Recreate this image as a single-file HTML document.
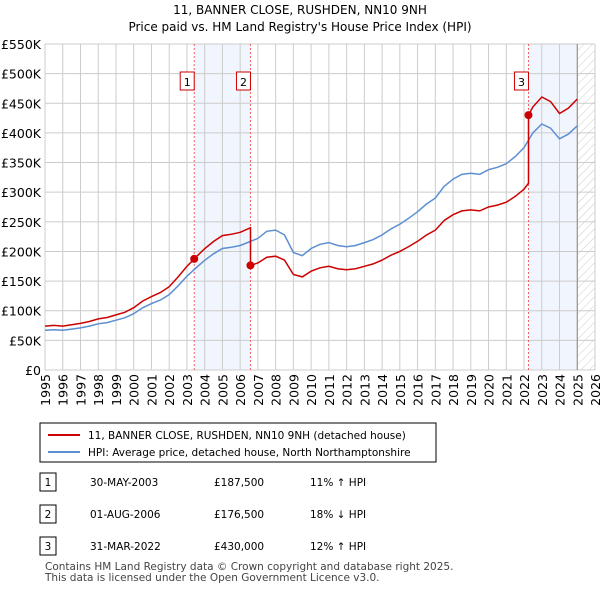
<!DOCTYPE html>
<html><head><meta charset="utf-8"><style>
body{margin:0;background:#fff;font-family:"DejaVu Sans",sans-serif;}
</style></head><body>
<svg width="600" height="590" xmlns="http://www.w3.org/2000/svg" style="font-family:'DejaVu Sans','Liberation Sans',sans-serif">
<defs><pattern id="hatch" width="6" height="6" patternUnits="userSpaceOnUse" patternTransform="rotate(45)"><line x1="0" y1="0" x2="0" y2="6" stroke="#ccc" stroke-width="1"/></pattern></defs>
<text x="300" y="14" text-anchor="middle" font-size="12">11, BANNER CLOSE, RUSHDEN, NN10 9NH</text>
<text x="300" y="31" text-anchor="middle" font-size="12">Price paid vs. HM Land Registry's House Price Index (HPI)</text>
<g id="plot"></g>
<g>
<rect x="40" y="423" width="396" height="39" fill="#fff" stroke="#000" stroke-width="1"/>
<line x1="48" y1="435" x2="80" y2="435" stroke="#cc0000" stroke-width="2"/>
<text x="88" y="439" font-size="10.5">11, BANNER CLOSE, RUSHDEN, NN10 9NH (detached house)</text>
<line x1="48" y1="452" x2="80" y2="452" stroke="#5b8fd0" stroke-width="2"/>
<text x="88" y="456" font-size="10.5">HPI: Average price, detached house, North Northamptonshire</text>
</g>
<g id="table" font-size="10.5"></g>
<text x="45" y="570" font-size="10.5" fill="#444">Contains HM Land Registry data © Crown copyright and database right 2025.</text>
<text x="45" y="581" font-size="10.5" fill="#444">This data is licensed under the Open Government Licence v3.0.</text>
</svg>
<script>
const hpiYears=[1995,1995.5,1996,1996.5,1997,1997.5,1998,1998.5,1999,1999.5,2000,2000.5,2001,2001.5,2002,2002.5,2003,2003.5,2004,2004.5,2005,2005.5,2006,2006.5,2007,2007.5,2008,2008.5,2009,2009.5,2010,2010.5,2011,2011.5,2012,2012.5,2013,2013.5,2014,2014.5,2015,2015.5,2016,2016.5,2017,2017.5,2018,2018.5,2019,2019.5,2020,2020.5,2021,2021.5,2022,2022.5,2023,2023.5,2024,2024.5,2025];
const hpiValues=[67,68,67,69,71,74,78,80,84,88,95,105,112,118,127,142,158,172,185,196,205,207,210,216,222,234,236,228,198,193,205,212,215,210,208,210,215,220,228,238,246,256,267,280,290,310,322,330,332,330,338,342,348,360,375,400,415,408,390,398,412];
const saleYears=[2003.41,2006.58,2022.25];
const salePrices=[187.5,176.5,430];
const saleLabels=["1","2","3"];
const saleDates=["30-MAY-2003","01-AUG-2006","31-MAR-2022"];
const salePriceText=["£187,500","£176,500","£430,000"];
const saleHpiText=["11% ↑ HPI","18% ↓ HPI","12% ↑ HPI"];
const yTicks=[0,50,100,150,200,250,300,350,400,450,500,550];
const yTickLabels=["£0","£50K","£100K","£150K","£200K","£250K","£300K","£350K","£400K","£450K","£500K","£550K"];

const NS="http://www.w3.org/2000/svg";
const X=y=>45+(y-1995)*550/31;
const Y=v=>370-v*326/550;
function mk(tag,attrs,parent){const e=document.createElementNS(NS,tag);for(const k in attrs)e.setAttribute(k,attrs[k]);parent.appendChild(e);return e;}
const plot=document.getElementById('plot');
function hpiAt(t){for(let i=0;i<hpiYears.length-1;i++){if(t<=hpiYears[i+1]){const f=(t-hpiYears[i])/(hpiYears[i+1]-hpiYears[i]);return hpiValues[i]+f*(hpiValues[i+1]-hpiValues[i]);}}return hpiValues[hpiValues.length-1];}
let s1=mk('rect',{x:X(saleYears[0]),y:44,width:X(saleYears[1])-X(saleYears[0]),height:326,fill:'#eef3fc',opacity:0.8},plot);

let s2=mk('rect',{x:X(saleYears[2]),y:44,width:X(2025)-X(saleYears[2]),height:326,fill:'#eef3fc',opacity:0.8},plot);

let h=mk('rect',{x:X(2025),y:44,width:595-X(2025),height:326,fill:'url(#hatch)'},plot);

for(let yr=1995;yr<=2026;yr++){let l=mk('line',{x1:X(yr),x2:X(yr),y1:44,y2:370,stroke:'#ccc','stroke-width':1},plot);

let t=mk('text',{x:0,y:0,'text-anchor':'end','font-size':12.5,transform:'translate('+(X(yr)+5)+',374) rotate(-90)'},plot);t.textContent=yr;
}
yTicks.forEach((v,i)=>{let l=mk('line',{x1:45,x2:595,y1:Y(v),y2:Y(v),stroke:'#ccc','stroke-width':1},plot);

let t=mk('text',{x:41,y:Y(v)+5,'text-anchor':'end','font-size':12.5},plot);t.textContent=yTickLabels[i];
});
let b=mk('line',{x1:X(2025),x2:X(2025),y1:44,y2:370,stroke:'#888','stroke-width':1},plot);

saleYears.forEach((sy,i)=>{let l=mk('line',{x1:X(sy),x2:X(sy),y1:44,y2:370,stroke:'#f06060','stroke-width':1,'stroke-dasharray':'2,2'},plot);

let r=mk('rect',{x:X(sy)-14,y:72,width:14,height:18,fill:'#fff',stroke:'#cc0000'},plot);

let t=mk('text',{x:X(sy)-7,y:86,'text-anchor':'middle','font-size':11},plot);t.textContent=saleLabels[i];
});
let hp=hpiYears.map((t,i)=>X(t).toFixed(1)+','+Y(hpiValues[i]).toFixed(1)).join(' ');
let hl=mk('polyline',{points:hp,fill:'none',stroke:'#5b8fd0','stroke-width':1.5},plot);

let pts=[];
for(let k=0;k<=saleYears.length;k++){
 const a=k==0?1995:saleYears[k-1], e=k<saleYears.length?saleYears[k]:2025;
 const ref=k==0?0:k-1; const fac=salePrices[ref]/hpiAt(saleYears[ref]);
 const ts=[a].concat(hpiYears.filter(t=>t>a&&t<e)).concat([e]);
 ts.forEach(t=>pts.push(X(t).toFixed(1)+','+Y(hpiAt(t)*fac).toFixed(1)));
}
let pl=mk('polyline',{points:pts.join(' '),fill:'none',stroke:'#cc0000','stroke-width':1.5},plot);

saleYears.forEach((sy,i)=>{let c=mk('circle',{cx:X(sy),cy:Y(salePrices[i]),r:4,fill:'#cc0000'},plot);
});
const tb=document.getElementById('table');
saleYears.forEach((sy,i)=>{const y=482+i*32;
let r=mk('rect',{x:40,y:y-9,width:16,height:18,fill:'#fff',stroke:'#000'},tb);

let n=mk('text',{x:48,y:y+4,'text-anchor':'middle'},tb);n.textContent=saleLabels[i];

let d=mk('text',{x:90,y:y+4},tb);d.textContent=saleDates[i];

let p=mk('text',{x:214,y:y+4},tb);p.textContent=salePriceText[i];

let q=mk('text',{x:310,y:y+4},tb);q.textContent=saleHpiText[i];
});
</script>
</body></html>
